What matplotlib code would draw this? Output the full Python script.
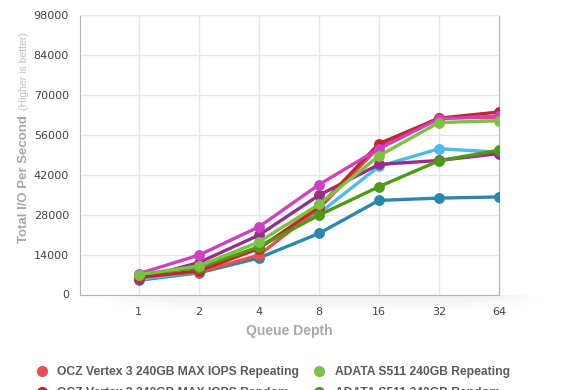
import numpy as np
import matplotlib
matplotlib.use("Agg")
from matplotlib import pyplot as plt
from matplotlib.lines import Line2D

# queue depths on the x axis
queue_depth = ["1", "2", "4", "8", "16", "32", "64"]

# total IOPS
ocz_repeating = [6200, 7900, 13800, 30100, 51700, 62000, 62000]
ocz_random = [6000, 8300, 16100, 30700, 52900, 61800, 64000]
adata_repeating = [7000, 10000, 18400, 31600, 48600, 60300, 60900]
adata_random = [7000, 9400, 16700, 27800, 37800, 46900, 50600]
blue_light = [5300, 7900, 16900, 28400, 44900, 51100, 49900]
blue_dark = [5000, 7600, 12800, 21400, 33000, 33800, 34200]
magenta = [7300, 13800, 23700, 38500, 51100, 61600, 62600]
purple = [5600, 11200, 20800, 34800, 45600, 47000, 49400]

yticks = [0, 14000, 28000, 42000, 56000, 70000, 84000, 98000]

series = [
    (blue_dark, '#2a87b0', None),
    (blue_light, '#4dbbe9', None),
    (purple, '#9a2d8c', None),
    (ocz_repeating, '#e8514f', 'OCZ Vertex 3 240GB MAX IOPS Repeating'),
    (ocz_random, '#c1272d', 'OCZ Vertex 3 240GB MAX IOPS Random'),
    (magenta, '#d03fc4', None),
    (adata_random, '#4e9a14', 'ADATA S511 240GB Random'),
    (adata_repeating, '#7cc242', 'ADATA S511 240GB Repeating'),
]

W, H = 580, 390
fig = plt.figure(figsize=(W / 100, H / 100), dpi=100)
fig.patch.set_facecolor('white')

# soft shadow under the plot area
sh = fig.add_axes([100 / W, (H - 312) / H, 445 / W, 17 / H])
gy = np.linspace(1, 0, 30)[:, None] ** 1.5
gx = np.clip(np.minimum(np.linspace(0, 1, 200), np.linspace(1, 0, 200)) * 6, 0, 1)[None, :]
rgba = np.zeros((30, 200, 4))
rgba[..., :3] = 0.55
rgba[..., 3] = 0.18 * gy * gx
sh.imshow(rgba, aspect='auto', interpolation='bilinear')
sh.axis('off')

ax = fig.add_axes([80 / W, (H - 294.5) / H, 419 / W, 279.5 / H])
x = np.arange(len(queue_depth))
for vals, col, lab in series:
    ax.plot(x, vals, '-o', color=col, lw=2.4, ms=6.8, mec=col, zorder=3)

ax.set_xlim(-0.98, 6)
ax.set_ylim(0, 98000)
ax.set_xticks(x)
ax.set_xticklabels(queue_depth)
ax.set_yticks(yticks)
ax.set_yticklabels([str(v) for v in yticks])
ax.tick_params(length=0, labelsize=8, labelcolor='#444444')
ax.tick_params(axis='y', pad=8)
ax.tick_params(axis='x', pad=9)
ax.grid(True, color='#e6e6e6', lw=1)
ax.set_axisbelow(True)
for s in ['left', 'bottom', 'right']:
    ax.spines[s].set_color('#b5b5b5')
ax.spines['top'].set_color('#e6e6e6')

fig.text(24 / W, (H - 179) / H, 'Total I/O Per Second', rotation=90,
         ha='center', va='center', fontsize=9.5, fontweight='bold',
         color='#a8a8a8', family='Liberation Sans')
fig.text(24 / W, (H - 71) / H, '(Higher is better)', rotation=90,
         ha='center', va='center', fontsize=7.5, color='#c0c0c0',
         family='Liberation Sans')
fig.text(289.5 / W, (H - 331) / H, 'Queue Depth', ha='center', va='center',
         fontsize=10, fontweight='bold', color='#a8a8a8', family='Liberation Sans')

# legend, only the first rows fit in the picture
handles = []
for vals, col, lab in [series[3], series[4], series[7], series[6]]:
    handles.append(Line2D([], [], ls='none', marker='o', ms=7, color=col, label=lab))
fig.legend(handles=handles, ncol=2, loc='upper left',
           bbox_to_anchor=(37 / W, (H - 366) / H), frameon=False,
           borderpad=0, borderaxespad=0, handlelength=0.8, handletextpad=0.85,
           columnspacing=1.3, labelspacing=0.75,
           prop={'family': 'Liberation Sans', 'weight': 'bold', 'size': 8.7},
           labelcolor='#5a5a5a')

fig.savefig('out.png', dpi=100)
